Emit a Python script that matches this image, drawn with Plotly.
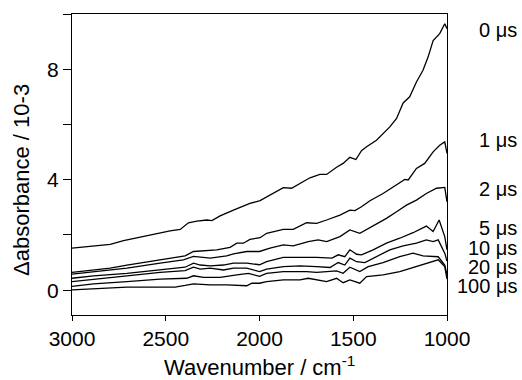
import plotly.graph_objects as go

# ---- data ----
wn_0us = [3000, 2903, 2796, 2725, 2636, 2547, 2477, 2423, 2379, 2334, 2281, 2254, 2210, 2139, 2086, 2051,
          1997, 1908, 1873, 1829, 1784, 1731, 1678, 1642, 1589, 1554, 1518, 1486, 1456, 1429, 1376, 1341,
          1305, 1269, 1234, 1199, 1163, 1128, 1101, 1074, 1039, 1012, 1000]
abs_0us = [1.52, 1.58, 1.66, 1.79, 1.92, 2.06, 2.15, 2.20, 2.44, 2.50, 2.54, 2.52, 2.69, 2.90, 3.05, 3.14,
           3.24, 3.56, 3.71, 3.69, 3.87, 4.07, 4.19, 4.19, 4.45, 4.59, 4.81, 4.73, 5.05, 5.19, 5.43, 5.65,
           5.91, 6.22, 6.78, 7.00, 7.54, 7.96, 8.44, 9.04, 9.29, 9.65, 9.47]

wn_1us = [3000, 2885, 2796, 2707, 2619, 2530, 2459, 2397, 2352, 2281, 2228, 2157, 2121, 2086, 2051, 1997,
          1962, 1873, 1820, 1749, 1695, 1642, 1571, 1518, 1491, 1456, 1411, 1341, 1269, 1225, 1207, 1163,
          1119, 1074, 1039, 1012, 1000]
abs_1us = [0.64, 0.73, 0.80, 0.91, 1.00, 1.10, 1.16, 1.24, 1.40, 1.42, 1.46, 1.55, 1.70, 1.70, 1.84, 1.90,
           2.06, 2.20, 2.20, 2.44, 2.42, 2.54, 2.72, 2.90, 2.88, 3.02, 3.24, 3.50, 3.81, 4.01, 3.99, 4.41,
           4.59, 5.01, 5.25, 5.37, 4.95]

wn_2us = [3000, 2885, 2707, 2530, 2406, 2352, 2263, 2175, 2139, 2068, 2000, 1944, 1873, 1820, 1740, 1687,
          1642, 1571, 1518, 1465, 1394, 1323, 1269, 1216, 1163, 1110, 1056, 1012, 1000]
abs_2us = [0.58, 0.67, 0.80, 0.98, 1.10, 1.22, 1.16, 1.24, 1.31, 1.40, 1.40, 1.52, 1.64, 1.60, 1.76, 1.82,
           1.76, 1.94, 2.18, 2.06, 2.32, 2.60, 2.84, 3.08, 3.26, 3.50, 3.69, 3.72, 3.20]

wn_5us = [3000, 2885, 2707, 2530, 2397, 2352, 2316, 2263, 2192, 2139, 2068, 2000, 1962, 1873, 1784, 1695,
          1614, 1580, 1545, 1518, 1482, 1456, 1394, 1323, 1252, 1181, 1110, 1074, 1042, 1012, 1000]
abs_5us = [0.43, 0.52, 0.61, 0.73, 0.83, 0.98, 0.91, 0.88, 0.91, 0.98, 0.98, 0.92, 1.03, 1.19, 1.19, 1.19,
           1.16, 1.28, 1.21, 1.46, 1.30, 1.28, 1.46, 1.70, 1.88, 2.08, 2.32, 2.12, 2.54, 1.94, 1.46]

wn_10us = [3000, 2885, 2707, 2530, 2397, 2352, 2316, 2263, 2192, 2139, 2068, 2000, 1962, 1873, 1784, 1695,
           1624, 1580, 1545, 1518, 1482, 1438, 1376, 1305, 1234, 1163, 1110, 1074, 1047, 1012, 1000]
abs_10us = [0.31, 0.40, 0.52, 0.64, 0.71, 0.83, 0.76, 0.80, 0.73, 0.80, 0.80, 0.67, 0.76, 0.85, 0.88, 0.85,
            0.82, 1.00, 0.91, 1.16, 1.03, 1.00, 1.21, 1.46, 1.60, 1.70, 1.82, 1.76, 1.82, 1.34, 1.05]

wn_20us = [3000, 2885, 2707, 2530, 2388, 2352, 2299, 2210, 2121, 2059, 2000, 1962, 1873, 1749, 1695, 1589,
           1554, 1518, 1465, 1420, 1341, 1252, 1181, 1128, 1047, 1012, 1000]
abs_20us = [0.14, 0.23, 0.31, 0.40, 0.43, 0.52, 0.46, 0.46, 0.55, 0.61, 0.50, 0.61, 0.67, 0.67, 0.64, 0.70,
            0.61, 0.83, 0.67, 0.85, 1.00, 1.21, 1.34, 1.24, 1.21, 0.91, 0.55]

wn_100us = [3000, 2885, 2707, 2530, 2450, 2397, 2352, 2263, 2175, 2068, 2041, 2000, 1962, 1873, 1784, 1740,
            1695, 1642, 1589, 1554, 1518, 1465, 1429, 1341, 1252, 1163, 1092, 1047, 1012, 1000]
abs_100us = [0.01, 0.04, 0.11, 0.11, 0.11, 0.17, 0.23, 0.19, 0.19, 0.16, 0.25, 0.25, 0.31, 0.37, 0.37, 0.43,
             0.37, 0.31, 0.43, 0.27, 0.37, 0.25, 0.49, 0.55, 0.67, 0.85, 1.00, 1.10, 0.85, 0.40]

series_labels = ["0 \u03bcs", "1 \u03bcs", "2 \u03bcs", "5 \u03bcs", "10 \u03bcs", "20 \u03bcs", "100 \u03bcs"]
label_y = [9.42, 5.44, 3.67, 2.26, 1.52, 0.84, 0.16]

x_ticks = [3000, 2500, 2000, 1500, 1000]
y_ticks = [0, 4, 8]
y_minor_ticks = [2, 6, 10]

series = [(wn_0us, abs_0us), (wn_1us, abs_1us), (wn_2us, abs_2us), (wn_5us, abs_5us),
          (wn_10us, abs_10us), (wn_20us, abs_20us), (wn_100us, abs_100us)]

FONT = "Liberation Sans, Arial, Helvetica, sans-serif"

fig = go.Figure()
for (xs, ys), name in zip(series, series_labels):
    fig.add_trace(go.Scatter(x=xs, y=ys, mode="lines", name=name,
                             line=dict(color="black", width=1.3), showlegend=False))

# Right-side labels
for name, yv in zip(series_labels, label_y):
    fig.add_annotation(x=1.192, xref="paper", y=yv, yref="y", text=name, showarrow=False,
                       xanchor="right", yanchor="middle",
                       font=dict(family=FONT, size=20, color="black"))

# Axis titles
fig.add_annotation(x=0.5, xref="paper", y=-0.17, yref="paper",
                   text="Wavenumber / cm<sup>-1</sup>", showarrow=False,
                   xanchor="center", yanchor="middle",
                   font=dict(family=FONT, size=22, color="black"))
fig.add_annotation(x=-0.135, xref="paper", y=0.45, yref="paper",
                   text="\u0394absorbance / 10-3", showarrow=False, textangle=-90,
                   xanchor="center", yanchor="middle",
                   font=dict(family=FONT, size=22, color="black"))

fig.update_layout(
    width=522, height=380,
    margin=dict(l=72, r=75, t=14, b=65),
    paper_bgcolor="white", plot_bgcolor="white",
    font=dict(family=FONT, size=21, color="black"),
    xaxis=dict(range=[3000, 1000], tickvals=x_ticks, ticks="outside", ticklen=5,
               tickcolor="black", showline=True, linecolor="black", linewidth=1,
               mirror=True, showgrid=False, zeroline=False,
               tickfont=dict(family=FONT, size=21, color="black")),
    yaxis=dict(range=[-0.9, 10], tickvals=y_ticks, ticks="outside",
               ticklen=8, tickcolor="black", showline=True, linecolor="black", linewidth=1,
               mirror=True, showgrid=False, zeroline=False,
               minor=dict(tickvals=y_minor_ticks, ticks="outside", ticklen=8,
                          tickcolor="black", showgrid=False),
               tickfont=dict(family=FONT, size=21, color="black")),
)

fig.write_html("out.html")
